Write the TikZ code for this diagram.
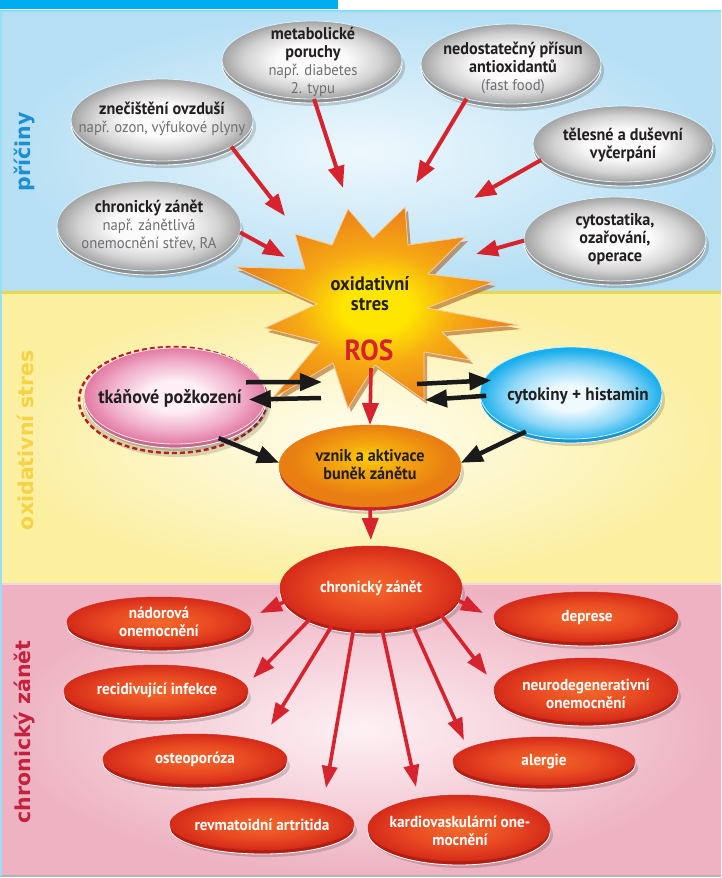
\documentclass[tikz,border=0pt]{standalone}
\usepackage{fontspec}
\setmainfont{PT Sans}[FakeStretch=0.95]
\newfontfamily\labfont{DejaVu Sans}
\usetikzlibrary{shapes.geometric,arrows.meta}
\definecolor{arrred}{HTML}{D7232E}
\definecolor{arrblk}{HTML}{1A1A1A}
\definecolor{topblue}{HTML}{00AEEF}
\definecolor{secblueO}{HTML}{B6DFF4}
\definecolor{secblueI}{HTML}{EEF8FD}
\definecolor{secyelO}{HTML}{FBEFA0}
\definecolor{secyelI}{HTML}{FFFDF0}
\definecolor{secpinkO}{HTML}{EEB2C2}
\definecolor{secpinkI}{HTML}{FDF1F4}
\definecolor{yelline}{HTML}{EAD84C}
\definecolor{pinkline}{HTML}{F0D6DE}
\definecolor{grayO}{HTML}{A3A3A3}
\definecolor{grayM}{HTML}{D2D2D2}
\definecolor{grayI}{HTML}{FBFBFB}
\definecolor{grayRim}{HTML}{8E8E8E}
\definecolor{redO}{HTML}{D52B1A}
\definecolor{redM}{HTML}{E94A22}
\definecolor{redI}{HTML}{F3692B}
\definecolor{redRim}{HTML}{B31E12}
\definecolor{pinkO}{HTML}{E37AA1}
\definecolor{pinkM}{HTML}{F0B0CA}
\definecolor{pinkI}{HTML}{FDEFF5}
\definecolor{pinkRim}{HTML}{C86A8E}
\definecolor{cyanO}{HTML}{19AEEC}
\definecolor{cyanM}{HTML}{8FD8F7}
\definecolor{cyanI}{HTML}{EEFAFF}
\definecolor{cyanRim}{HTML}{1596CF}
\definecolor{oraO}{HTML}{E97E12}
\definecolor{oraM}{HTML}{F5A70E}
\definecolor{oraI}{HTML}{FDD000}
\definecolor{oraRim}{HTML}{C2282A}
\definecolor{starO}{HTML}{EC8419}
\definecolor{starM}{HTML}{F6A914}
\definecolor{starI}{HTML}{FFE600}
\definecolor{starSh}{HTML}{A8540E}
\definecolor{maintext}{HTML}{231F20}
\definecolor{subgray}{HTML}{6D6E71}
\definecolor{labblue}{HTML}{1B8FD2}
\definecolor{labyel}{HTML}{F6D344}
\definecolor{labred}{HTML}{C4213C}
\pgfdeclareradialshading{shgray}{\pgfpoint{0bp}{0bp}}{color(0bp)=(grayI); color(10bp)=(grayI); color(19bp)=(grayM); color(25bp)=(grayO); color(50bp)=(grayO)}
\pgfdeclareradialshading{shred}{\pgfpoint{0bp}{0bp}}{color(0bp)=(redI); color(14bp)=(redM); color(25bp)=(redO); color(50bp)=(redO)}
\pgfdeclareradialshading{shpink}{\pgfpoint{0bp}{0bp}}{color(0bp)=(pinkI); color(8bp)=(pinkI); color(18bp)=(pinkM); color(25bp)=(pinkO); color(50bp)=(pinkO)}
\pgfdeclareradialshading{shcyan}{\pgfpoint{0bp}{-3bp}}{color(0bp)=(cyanI); color(7bp)=(cyanI); color(17bp)=(cyanM); color(25bp)=(cyanO); color(50bp)=(cyanO)}
\pgfdeclareradialshading{shora}{\pgfpoint{0bp}{6bp}}{color(0bp)=(oraI); color(9bp)=(oraM); color(22bp)=(oraO); color(50bp)=(oraO)}
\pgfdeclareradialshading{shstar}{\pgfpoint{0bp}{0bp}}{color(0bp)=(starI); color(6bp)=(starI); color(14bp)=(starM); color(24bp)=(starO); color(50bp)=(starO)}
\newcommand\subfont{\mdseries\fontsize{15.5}{18}\selectfont\color{subgray}}
\newcommand\mydisc[7]{%
  \fill[black,opacity=.16] ({#2+3},{#3+7}) ellipse [x radius=#4pt, y radius=#5pt];
  \fill[#7, draw=white, line width=.8pt] ({#2},{#3+4}) ellipse [x radius=#4pt, y radius=#5pt];
  \node[ellipse, minimum width={2*#4pt}, minimum height={2*#5pt}, inner sep=0pt, outer sep=0pt, #6] (#1) at (#2,#3) {};
}
\begin{document}
\begin{tikzpicture}[x=1pt,y=-1pt,
  grayfill/.style={shading=shgray, draw=white!85!cyan, line width=.8pt},
  redfill/.style={shading=shred, draw=redO, line width=.5pt},
  pinkfill/.style={shading=shpink, draw=white!80!pinkO, line width=.8pt},
  cyanfill/.style={shading=shcyan, draw=white!80!cyanO, line width=.8pt},
  orafill/.style={shading=shora, draw=oraO, line width=.5pt},
  causetxt/.style={align=center, text=maintext, font=\bfseries\fontsize{17}{18}\selectfont, inner sep=0pt},
  redtxt/.style={align=center, text=white, font=\bfseries\fontsize{16}{18.5}\selectfont, inner sep=0pt},
  midtxt/.style={align=center, text=maintext, font=\bfseries\fontsize{19}{20}\selectfont, inner sep=0pt},
  sidelab/.style={rotate=90, font=\labfont\bfseries\fontsize{20.5}{20.5}\selectfont, inner sep=0pt},
  redarr/.style={draw=arrred, line width=4pt, -{Triangle[length=22pt,width=16pt]}},
  fanarr/.style={draw=arrred, line width=3.6pt, -{Triangle[length=22pt,width=15pt]}},
  blkarr/.style={draw=arrblk, line width=4.5pt, -{Triangle[length=22pt,width=17pt]}}
]
\useasboundingbox (0,0) rectangle (721,878);
% backgrounds
\fill[white] (0,0) rectangle (721,878);
\shade[inner color=secblueI, outer color=secblueO] (0,11) rectangle (721,292);
\shade[inner color=secyelI, outer color=secyelO] (0,292) rectangle (721,583);
\shade[inner color=secpinkI, outer color=secpinkO] (0,583) rectangle (721,876);
\fill[topblue] (0,0) rectangle (338,9);
\draw[topblue!45, line width=1.5pt] (0,11) -- (721,11);
\draw[yelline, line width=3pt] (0,292) -- (721,292);
\draw[pinkline, line width=2pt] (0,584) -- (721,584);
\draw[gray!60, line width=1.5pt] (0,876) -- (721,876);
\draw[topblue!40, line width=1.5pt] (1,11) -- (1,876);
% side labels
\node[sidelab, text=labblue] (lab1) at (25,152) {příčiny};
\node[sidelab, text=labyel] (lab2) at (25,440) {oxidativní stres};
\node[sidelab, text=labred] (lab3) at (25,732) {chronický zánět};
% star
\def\starpath{(348,209) -- (373,238) -- (405,207) -- (408,245) -- (465,237) -- (428,274) -- (493,282) -- (427,308) -- (518,325) -- (442,332) -- (470,360) -- (424,352) -- (424,400) -- (375,365) -- (348,408) -- (333,363) -- (272,399) -- (320,342) -- (265,328) -- (317,304) -- (235,267) -- (305,269) -- (295,234) -- (332,245) -- cycle}
\fill[starSh, opacity=.55, shift={(3,4)}] \starpath;
\shade[shading=shstar, draw=white!60!starO, line width=.8pt] \starpath;
\coordinate (star) at (372,308);
\node[align=center, text=maintext, font=\bfseries\fontsize{19.5}{20}\selectfont, inner sep=0pt] (startxt) at (370,294) {oxidativní\\stres};
\node[text=arrred, font=\bfseries\fontsize{29}{29}\selectfont, inner sep=0pt] (ros) at (369,350) {ROS};
% cause discs
\mydisc{met}{312}{60}{90}{39}{grayfill}{grayRim}
\mydisc{ned}{511}{64}{90}{40}{grayfill}{grayRim}
\mydisc{zne}{162}{120}{91}{41}{grayfill}{grayRim}
\mydisc{tel}{623}{144}{90}{38}{grayfill}{grayRim}
\mydisc{chr}{149}{226}{92}{45}{grayfill}{grayRim}
\mydisc{cyt}{615}{239}{91}{42}{grayfill}{grayRim}
\node[causetxt] (met-t) at (313,62) {metabolické\\poruchy\\{\subfont např. diabetes}\\{\subfont 2. typu}};
\node[causetxt] (ned-t) at (513,68) {nedostatečný přísun\\antioxidantů\\{\subfont (fast food)}};
\node[causetxt] (zne-t) at (162,119) {znečištění ovzduší\\{\subfont např. ozon, výfukové plyny}};
\node[causetxt] (tel-t) at (623,145) {tělesné a duševní\\vyčerpání};
\node[causetxt] (chr-t) at (149,225) {chronický zánět\\{\subfont např. zánětlivá}\\{\subfont onemocnění střev, RA}};
\node[causetxt] (cyt-t) at (615,239) {cytostatika,\\ozařování,\\operace};
% arrows into star
\coordinate (sm) at (343,188);
\coordinate (sn) at (416,183);
\coordinate (sz) at (285,216);
\coordinate (st) at (474,198);
\coordinate (sc) at (285,257);
\coordinate (sy) at (476,254);
\draw[redarr] (met.-87) -- (sm);
\draw[redarr] (ned.-142) -- (sn);
\draw[redarr] (zne.-21) -- (sz);
\draw[redarr] (tel.-169) -- (st);
\draw[redarr] (chr.-4) -- (sc);
\draw[redarr] (cyt.-179) -- (sy);
% middle discs
\fill[black,opacity=.14] (177,404) ellipse [x radius=94pt, y radius=53pt];
\draw[arrred!85!black, line width=2.4pt, dash pattern=on 5pt off 3pt] (173,400) ellipse [x radius=94pt, y radius=53pt];
\mydisc{tk}{175}{396}{91}{48}{pinkfill}{pinkRim}
\mydisc{cy}{571}{393}{91}{46}{cyanfill}{cyanRim}
\mydisc{vz}{370}{466}{91}{41}{orafill}{oraRim}
\node[midtxt] (tk-t) at (170,398) {tkáňové požkození};
\node[midtxt, font=\bfseries\fontsize{18}{20}\selectfont] (cy-t) at (578,396) {cytokiny + histamin};
\node[causetxt] (vz-t) at (370,465) {vznik a aktivace\\buněk zánětu};
% black arrows
\coordinate (sa) at (322,382);
\coordinate (sb) at (321,398);
\coordinate (sc2) at (417,384);
\coordinate (sd) at (425,400);
\draw[blkarr, shorten <=-16pt] (tk.9) -- (sa);
\draw[blkarr, shorten >=-17pt] (sb) -- (tk.-2);
\draw[blkarr, shorten >=-8pt] (sc2) -- (cy.172);
\draw[blkarr, shorten <=-6pt] (cy.-178) -- (sd);
\draw[blkarr] (tk.-44) -- (vz.178);
\draw[blkarr, shorten <=-2pt] (cy.-140) -- (vz.2);
% red vertical arrows
\coordinate (srs) at (371,368);
\draw[redarr, line width=3.6pt] (srs) -- (vz.north);
% chronic centre
\mydisc{chz}{371}{588}{91}{42}{redfill}{redRim}
\draw[redarr, line width=3.6pt, shorten >=6pt] (vz.south) -- (chz.north);
\node[redtxt] (chz-t) at (371,588) {chronický zánět};
% outcome discs
\mydisc{nad}{159}{622}{92}{25}{redfill}{redRim}
\mydisc{rec}{156}{691}{92}{26}{redfill}{redRim}
\mydisc{ost}{195}{759}{92}{25}{redfill}{redRim}
\mydisc{rev}{262}{824}{92}{26}{redfill}{redRim}
\mydisc{kar}{459}{828}{91}{33}{redfill}{redRim}
\mydisc{ale}{544}{761}{91}{24}{redfill}{redRim}
\mydisc{neu}{586}{690}{92}{32}{redfill}{redRim}
\mydisc{dep}{586}{617}{92}{25}{redfill}{redRim}
\node[redtxt] (nad-t) at (159,622) {nádorová\\onemocnění};
\node[redtxt] (rec-t) at (157,690) {recidivující infekce};
\node[redtxt] (ost-t) at (195,759) {osteoporóza};
\node[redtxt] (rev-t) at (262,825) {revmatoidní artritida};
\node[redtxt] (kar-t) at (460,831) {kardiovaskulární one-\\mocnění};
\node[redtxt] (ale-t) at (544,761) {alergie};
\node[redtxt] (neu-t) at (586,694) {neurodegenerativní\\onemocnění};
\node[redtxt] (dep-t) at (587,617) {deprese};
% fan arrows
\coordinate (fnad) at (260,613);
\coordinate (fdep) at (483,613);
\coordinate (frec) at (253,678);
\coordinate (fost) at (271,725);
\coordinate (frev) at (326,788);
\coordinate (fkar) at (416,787);
\coordinate (fale) at (464,740);
\coordinate (fneu) at (487,675);
\draw[fanarr] (chz.189) -- (fnad);
\draw[fanarr] (chz.-8) -- (fdep);
\draw[fanarr] (chz.-153) -- (frec);
\draw[fanarr] (chz.-136) -- (fost);
\draw[fanarr] (chz.-113) -- (frev);
\draw[fanarr] (chz.-75) -- (fkar);
\draw[fanarr] (chz.-42) -- (fale);
\draw[fanarr] (chz.-21) -- (fneu);
\end{tikzpicture}
\end{document}
